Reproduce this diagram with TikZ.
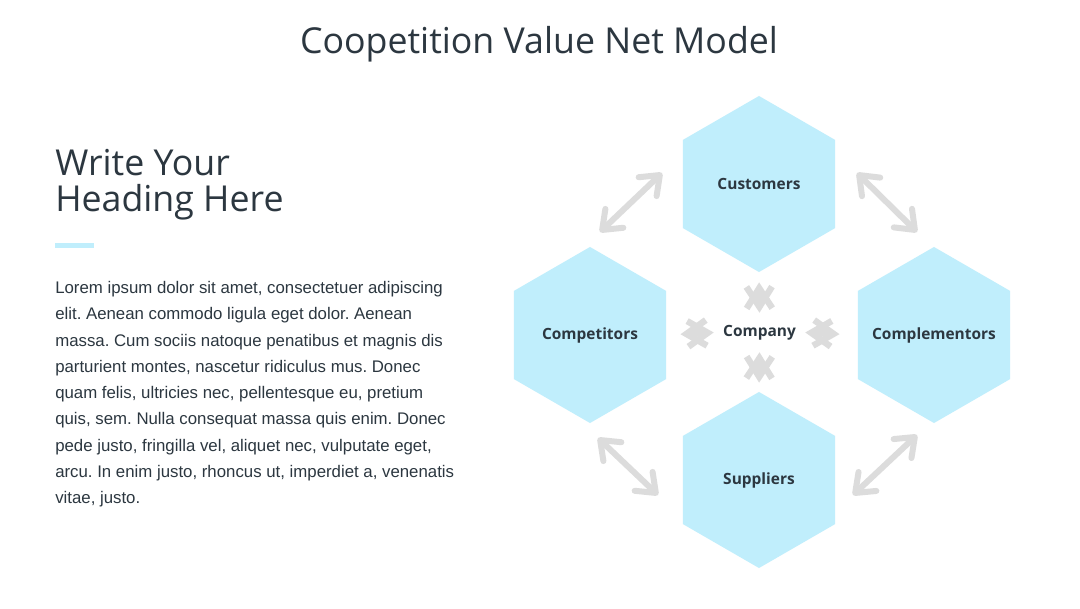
\documentclass[tikz,border=0pt]{standalone}
\usepackage{fontspec}
\usepackage{tikz}
\usetikzlibrary{arrows.meta,positioning,shapes.geometric}
\setmainfont{Open Sans}
\newfontfamily\bodyfont{Liberation Sans}
\definecolor{ink}{HTML}{2C3740}
\definecolor{hexfill}{HTML}{C0EEFC}
\definecolor{arrowgray}{HTML}{DCDCDC}
\newcommand\hexlabel[1]{\makebox[0pt]{#1}}
\tikzset{
  hexnode/.style={regular polygon,regular polygon sides=6,shape border rotate=30,
                  fill=hexfill,minimum size=4.4cm,inner sep=0pt,text=ink,
                  font=\bfseries\fontsize{11}{13}\selectfont},
  bigarr/.style={{Straight Barb[round,length=4.2mm,width=6.5mm]}-{Straight Barb[round,length=4.2mm,width=6.5mm]},
                 line width=1.5mm,draw=arrowgray,line cap=round},
  smallarr/.style={{Straight Barb[length=5mm,width=6.4mm]}-{Straight Barb[length=5mm,width=6.4mm]},
                   line width=1.6mm,draw=arrowgray},
  titletext/.style={text=ink,inner sep=0pt,font=\fontsize{25.4}{27}\selectfont},
  headtext/.style={text=ink,inner sep=0pt,align=left,font=\fontsize{25.4}{25.5}\selectfont},
  bodytext/.style={text=ink,inner sep=0pt,align=left,font=\bodyfont\fontsize{11.95}{18.7}\selectfont}
}
\begin{document}
\frenchspacing
\begin{tikzpicture}[x=0.025cm,y=0.025cm]
  \useasboundingbox[fill=white] (0,0) rectangle (1080,608);

  \node[titletext] (title) at (539,564) {Coopetition Value Net Model};

  \node[headtext,anchor=north west] (heading) at (55,459) {Write Your\\Heading Here};
  \fill[hexfill] (55,365) rectangle (94,360);
  \node[bodytext,anchor=north west] (body) at (55,327)
    {Lorem ipsum dolor sit amet, consectetuer adipiscing\\
     elit. Aenean commodo ligula eget dolor. Aenean\\
     massa. Cum sociis natoque penatibus et magnis dis\\
     parturient montes, nascetur ridiculus mus. Donec\\
     quam felis, ultricies nec, pellentesque eu, pretium\\
     quis, sem. Nulla consequat massa quis enim. Donec\\
     pede justo, fringilla vel, aliquet nec, vulputate eget,\\
     arcu. In enim justo, rhoncus ut, imperdiet a, venenatis\\
     vitae, justo.};

  % value net
  \node[hexnode] (cust)  at (759,424) {\hexlabel{Customers}};
  \node[hexnode] (comp)  at (590,273) {\hexlabel{Competitors}};
  \node[hexnode] (compl) at (934,273) {\hexlabel{Complementors}};
  \node[hexnode] (supp)  at (759,128) {\hexlabel{Suppliers}};
  \node[text=ink,inner sep=0pt,minimum width=2.275cm,minimum height=0.975cm,
        font=\bfseries\fontsize{11}{13}\selectfont] (firm) at (759.5,275.5) {Company};

  \draw[smallarr,shorten >=0.25cm] (firm.north) -- (cust.south);
  \draw[smallarr,shorten >=0.225cm] (firm.south) -- (supp.north);
  \draw[smallarr,shorten >=0.35cm] (firm.west) -- (comp.east);
  \draw[smallarr,shorten >=0.45cm] (firm.east) -- (compl.west);

  \coordinate (tl1) at (600,376);  \coordinate (tl2) at (662,435);
  \coordinate (tr1) at (857,435);  \coordinate (tr2) at (917,376);
  \coordinate (bl1) at (598,170);  \coordinate (bl2) at (658,113);
  \coordinate (br1) at (853,113);  \coordinate (br2) at (917,173);
  \draw[bigarr] (tl1) -- (tl2);
  \draw[bigarr] (tr1) -- (tr2);
  \draw[bigarr] (bl1) -- (bl2);
  \draw[bigarr] (br1) -- (br2);
\end{tikzpicture}
\end{document}
